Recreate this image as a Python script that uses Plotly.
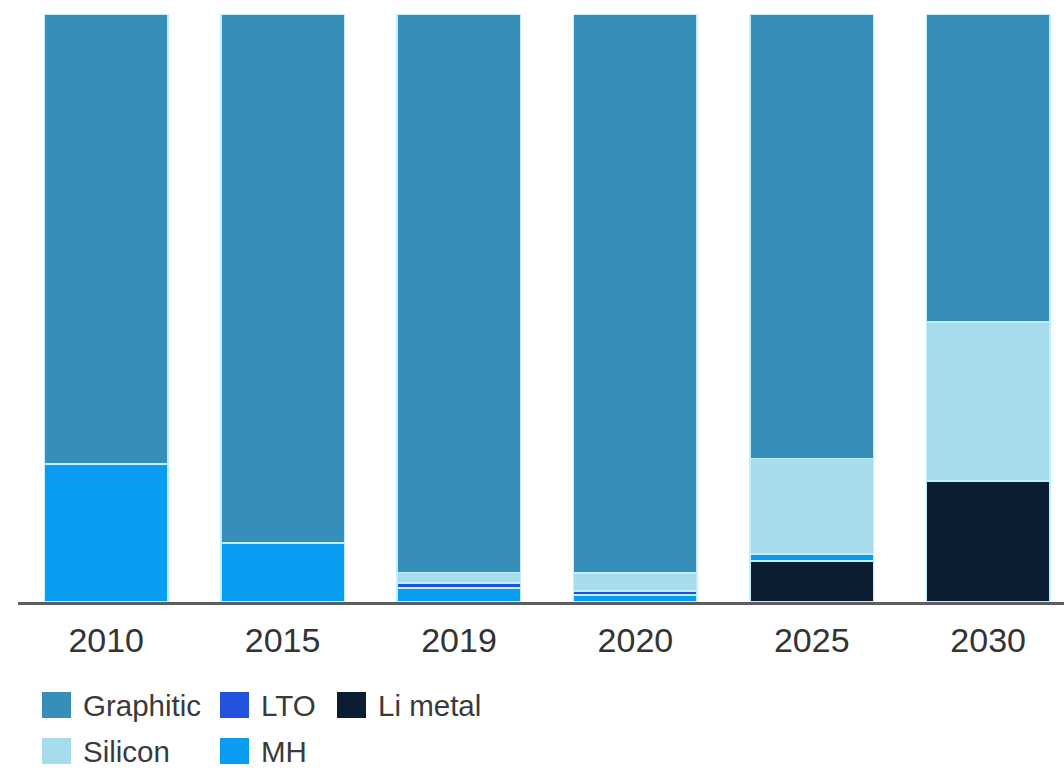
import plotly.graph_objects as go

# Anode chemistry share by year (percent of total, stacked bottom → top)
years = ["2010", "2015", "2019", "2020", "2025", "2030"]
li_metal = [0, 0, 0, 0, 7.0, 20.6]
mh = [23.5, 10.0, 2.4, 1.2, 1.2, 0]
lto = [0, 0, 0.8, 0.7, 0, 0]
silicon = [0, 0, 1.8, 3.0, 16.2, 27.0]
graphitic = [76.5, 90.0, 95.0, 95.1, 75.6, 52.4]

series = [
    ("Li metal", li_metal, "#0b1e31"),
    ("MH", mh, "#0a9cf0"),
    ("LTO", lto, "#2452dc"),
    ("Silicon", silicon, "#a7dcec"),
    ("Graphitic", graphitic, "#378fb9"),
]
colors = {name: c for name, _, c in series}

W, H = 1064, 768
L, R, T, B = 18, 0, 14, 166

fig = go.Figure()
for name, vals, color in series:
    fig.add_trace(go.Bar(
        x=years, y=vals, name=name,
        marker=dict(color=color, line=dict(color="#bdefff", width=1.5)),
        showlegend=False,
    ))


def px_x(px):
    return (px - L) / (W - L - R)


def px_y(py):
    return (H - B - py) / (H - T - B)


# Legend laid out as a 3-column grid beneath the axis
legend_items = [
    ("Graphitic", 42, 705),
    ("LTO", 220, 705),
    ("Li metal", 337, 705),
    ("Silicon", 42, 751),
    ("MH", 220, 751),
]
shapes = []
annotations = []
for name, sx, cy in legend_items:
    shapes.append(dict(
        type="rect", xref="paper", yref="paper",
        x0=px_x(sx), x1=px_x(sx + 29), y0=px_y(cy - 13), y1=px_y(cy + 13),
        fillcolor=colors[name], line=dict(width=0),
    ))
    annotations.append(dict(
        text=name, xref="paper", yref="paper",
        x=px_x(sx + 39), y=px_y(cy), xanchor="left", yanchor="middle",
        showarrow=False, font=dict(size=29.5, color="#3a3a3a"),
    ))

fig.update_layout(
    width=W, height=H,
    margin=dict(l=L, r=R, t=T, b=B, autoexpand=False),
    barmode="stack", bargap=0.30,
    plot_bgcolor="white", paper_bgcolor="white",
    font=dict(family="Liberation Sans, Arial, sans-serif", color="#333333"),
    shapes=shapes, annotations=annotations,
    xaxis=dict(
        range=[-0.5, 5.43], showgrid=False, zeroline=False,
        showline=True, linecolor="#5e5e5e", linewidth=3,
        ticks="", tickfont=dict(size=34, color="#333333"),
        ticklabelstandoff=6,
    ),
    yaxis=dict(range=[0, 100], visible=False, showgrid=False, zeroline=False),
)

fig.write_html("out.html")
